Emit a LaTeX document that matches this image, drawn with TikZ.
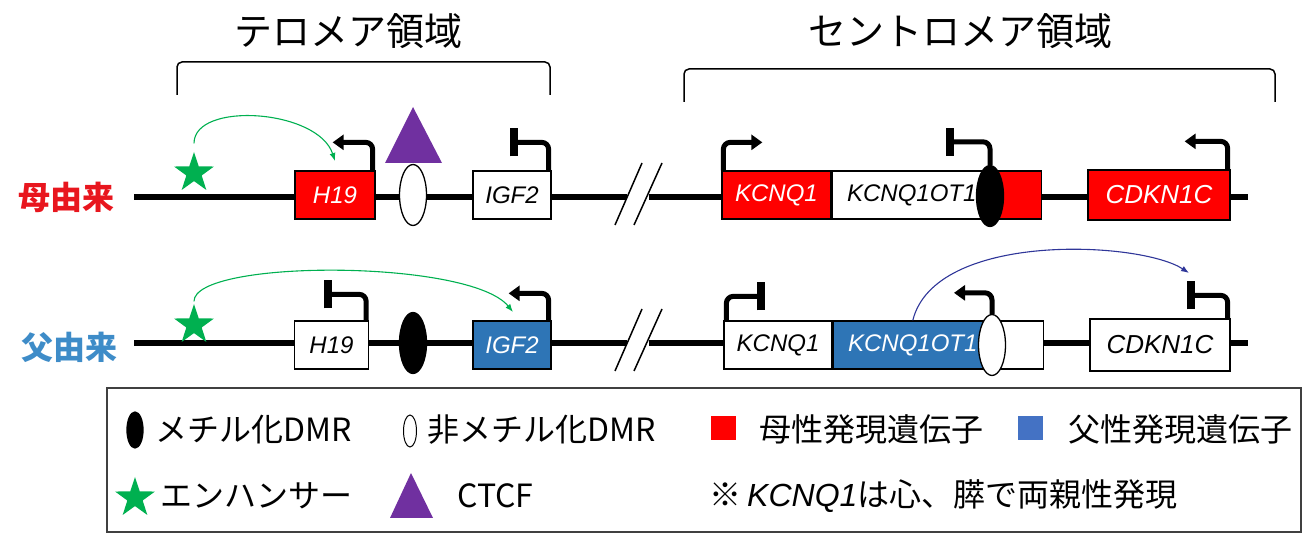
\documentclass[tikz,border=0pt]{standalone}
\usepackage{fontspec}
\setmainfont{Noto Sans CJK JP}
\newfontfamily\genefont{Liberation Sans}
\usetikzlibrary{shapes.geometric,arrows.meta,positioning}

\definecolor{matred}{RGB}{255,0,0}
\definecolor{matlabel}{RGB}{232,22,30}
\definecolor{patblue}{RGB}{46,117,182}
\definecolor{patlabel}{RGB}{62,140,200}
\definecolor{legblue}{RGB}{68,114,196}
\definecolor{enhgreen}{RGB}{0,176,80}
\definecolor{ctcfpurple}{RGB}{112,48,160}
\definecolor{arcblue}{RGB}{47,54,153}

\tikzset{
    head/.style={font=\fontsize{38}{40}\selectfont},
    allele/.style={font=\fontsize{32}{34}\selectfont\bfseries},
    legtext/.style={anchor=west, inner sep=0pt, font=\fontsize{32}{34}\selectfont},
    bracket/.style={line width=1.5pt, rounded corners=5pt},
    gene/.style={draw=black, line width=1.3pt, minimum height=48pt, inner sep=0pt,
                 font=\genefont\itshape\fontsize{24}{28}\selectfont},
    matg/.style={gene, fill=matred, text=white},
    patg/.style={gene, fill=patblue, text=white},
    offg/.style={gene, fill=white, text=black},
    dmr/.style={ellipse, draw=black, line width=1.3pt, minimum width=27pt,
                minimum height=61pt, inner sep=0pt},
    meth/.style={dmr, fill=black},
    unmeth/.style={dmr, fill=white},
    enh/.style={star, star points=5, star point ratio=2.6, fill=enhgreen,
                minimum size=42pt, inner sep=0pt},
    prom/.style={line width=5pt, rounded corners=7pt},
    enharc/.style={enhgreen, line width=1.1pt, -{Latex[length=8pt,width=6pt]}},
}

\newcommand{\backbone}[1]{ % chromosome with break
    \draw[line width=5.5pt] (134,#1) -- (627,#1);
    \draw[line width=5.5pt] (649,#1) -- (1248,#1);
    \draw[line width=1.5pt] (615,#1-28) -- (642,#1+34);
    \draw[line width=1.5pt] (634,#1-28) -- (662,#1+34);
}
\newcommand{\actprom}[3]{ % active promoter
    \draw[prom,-{Triangle[length=11pt,width=15pt]}] (#1) |- ++(#2,#3);
}
\newcommand{\blkprom}[3]{ % silenced promoter
    \draw[prom] (#1) |- ++(#2,#3) coordinate (bar);
    \draw[line width=8pt] ([yshift=-14pt]bar) -- ([yshift=14pt]bar);
}

\begin{document}
\begin{tikzpicture}[x=1pt,y=1pt]
\useasboundingbox (0,0) rectangle (1315,541);

% regions
\node[head] (telo) at (348,510) {テロメア領域};
\node[head] (cent) at (960,510) {セントロメア領域};
\draw[bracket] (177,446) -- (177,479) -- (550,479) -- (550,446);
\draw[bracket] (684,439) -- (684,472) -- (1275,472) -- (1275,439);

% maternal allele
\node[allele, text=matlabel] (mat) at (67,344) {母由来};
\backbone{344}
\node[enh] (enhm) at (194,368) {};
\node[matg, minimum width=80pt] (h19m) at (335,346) {H19};
\node[unmeth] (dmrhm) at (413,346) {};
\fill[ctcfpurple] (385,378) -- (413,434) -- (442,378) -- cycle;
\node[offg, minimum width=78pt] (igf2m) at (512,346) {IGF2};
\node[matg, minimum width=109pt] (kcnq1m) at (776.5,346) {KCNQ1};
\node[offg, minimum width=159pt, right=0pt of kcnq1m] (kcnqotm) {KCNQ1OT1};
\node[matg, minimum width=49pt, right=0pt of kcnqotm] (tailm) {};
\node[meth] (dmrkm) at (990,345) {};
\node[matg, minimum width=142pt, minimum height=50pt,
      font=\genefont\itshape\fontsize{26}{28}\selectfont] (cdknm) at (1159,346) {CDKN1C};

\actprom{[xshift=-3pt]h19m.north east}{-40}{28}
\blkprom{[xshift=-3pt]igf2m.north east}{-35}{28}
\actprom{[xshift=2pt]kcnq1m.north west}{39}{28}
\blkprom{dmrkm.north}{-40}{23}
\actprom{[xshift=-3pt]cdknm.north east}{-43}{28}

\coordinate (h19tss) at (335,380);
\draw[enharc] ([yshift=8pt]enhm.north) .. controls (194,440) and (318,432) .. (h19tss);

% paternal allele
\node[allele, text=patlabel] (pat) at (69,194) {父由来};
\backbone{198}
\node[enh] (enhp) at (194,216) {};
\node[offg, minimum width=74pt] (h19p) at (331.5,196) {H19};
\node[meth] (dmrhp) at (413,198) {};
\node[patg, minimum width=78pt] (igf2p) at (512,196) {IGF2};
\node[offg, minimum width=108pt] (kcnq1p) at (778,196) {KCNQ1};
\node[patg, minimum width=159pt, right=0pt of kcnq1p] (kcnqotp) {KCNQ1OT1};
\node[offg, minimum width=50pt, right=0pt of kcnqotp] (tailp) {};
\node[unmeth] (dmrkp) at (992,196) {};
\node[offg, minimum width=140pt, minimum height=52pt,
      font=\genefont\itshape\fontsize{26}{28}\selectfont] (cdknp) at (1160,196) {CDKN1C};

\blkprom{[xshift=-3pt]h19p.north east}{-38}{26}
\actprom{[xshift=-3pt]igf2p.north east}{-40}{27}
\blkprom{[xshift=3pt]kcnq1p.north west}{35}{24}
\actprom{dmrkp.north}{-38}{21}
\blkprom{[xshift=-3pt]cdknp.north east}{-37}{23}

\coordinate (igf2tss) at (513,229);
\coordinate (cdkntss) at (1189,268);
\draw[enharc] ([yshift=2pt]enhp.north) .. controls (194,282) and (470,282) .. (igf2tss);
\draw[arcblue, line width=1.1pt, -{Latex[length=8pt,width=6pt]}]
      (kcnqotp.north) .. controls (935,310) and (1140,300) .. (cdkntss);

% legend
\draw[line width=1.5pt, black!75] (107,9) rectangle (1301,153);
\node[meth, minimum width=16pt, minimum height=36pt] (kmeth) at (135,111) {};
\node[legtext] (tmeth) at (155,111) {メチル化DMR};
\node[unmeth, minimum width=13pt, minimum height=32pt, line width=1pt] (kunmeth) at (410,110) {};
\node[legtext] (tunmeth) at (427,111) {非メチル化DMR};
\fill[matred] (711,101) rectangle (736,125);
\node[legtext] (tmat) at (759,112) {母性発現遺伝子};
\fill[legblue] (1018,101) rectangle (1043,125);
\node[legtext] (tpat) at (1068,112) {父性発現遺伝子};
\node[enh, minimum size=42pt] (kenh) at (135,43) {};
\node[legtext] (tenh) at (160,45) {エンハンサー};
\fill[ctcfpurple] (390,23) -- (411,68) -- (433,23) -- cycle;
\node[legtext] (tctcf) at (457,45) {CTCF};
\node[legtext] (tnote) at (709,45) {※\kern6pt{\genefont\itshape KCNQ1}は心、膵で両親性発現};
\end{tikzpicture}
\end{document}
